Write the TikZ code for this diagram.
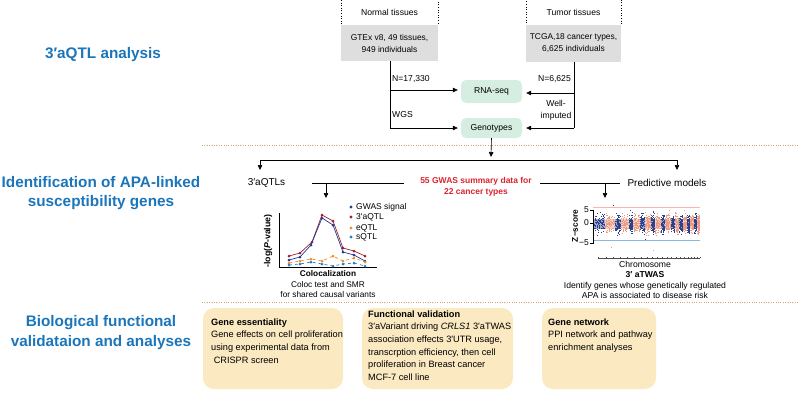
\documentclass[tikz,border=0pt]{standalone}
\usepackage{fontspec}
\setmainfont{Liberation Sans}
\usetikzlibrary{arrows.meta}
\definecolor{tblue}{HTML}{1B75BB}
\definecolor{gwred}{HTML}{D9232E}
\definecolor{boxgray}{HTML}{DEDEDE}
\definecolor{boxgreen}{HTML}{D6EDE1}
\definecolor{boxyellow}{HTML}{FBE9C2}
\definecolor{sepcol}{HTML}{D6A56C}
\definecolor{cblue}{HTML}{1F3D99}
\definecolor{cred}{HTML}{A3202B}
\definecolor{corange}{HTML}{F28E2B}
\definecolor{clblue}{HTML}{2A7FC1}
\definecolor{mblue}{HTML}{2B4190}
\definecolor{msal}{HTML}{EC9A80}
\begin{document}
\begin{tikzpicture}[x=1pt,y=-1pt,
  every node/.style={inner sep=0pt, font=\fontsize{8.6}{10}\selectfont},
  arr/.style={-{Triangle[length=5pt,width=4.5pt]}, line width=0.6pt},
  ln/.style={line width=0.6pt},
  title/.style={text=tblue, font=\fontsize{15.3}{19.8}\selectfont\bfseries, align=center},
  dotbox/.style={draw, dotted, line width=0.6pt},
  graybox/.style={fill=boxgray, align=center, font=\fontsize{8.4}{12}\selectfont},
  greenbox/.style={fill=boxgreen, rounded corners=5pt, minimum width=61pt},
  sep/.style={sepcol, line width=0.8pt, dash pattern=on 0.8pt off 1.6pt},
  ybox/.style={fill=boxyellow, rounded corners=11pt, minimum height=81pt},
  ytext/.style={align=left, anchor=north west, font=\fontsize{9.2}{12.6}\selectfont},
]
\useasboundingbox (0,0) rectangle (800,410);

% section titles
\node[title] (t1) at (103,55) {3′aQTL analysis};
\node[title] (t2) at (101,193) {Identification of APA-linked\\susceptibility genes};
\node[title] (t3) at (101,332.5) {Biological functional\\validataion and analyses};

% separators
\coordinate (s1a) at (202,145); \coordinate (s1b) at (800,145);
\coordinate (s2a) at (202,302); \coordinate (s2b) at (800,302);
\draw[sep] (s1a) -- (s1b);
\draw[sep] (s2a) -- (s2b);

% top boxes
\node[dotbox, minimum width=97pt, minimum height=26pt] (normal) at (389.5,12) {Normal tissues};
\node[graybox, minimum width=97pt, minimum height=36pt] (ngray) at (389.5,43) {GTEx v8, 49 tissues,\\949 individuals};
\node[dotbox, minimum width=95pt, minimum height=26pt] (tumor) at (573.5,12) {Tumor tissues};
\node[graybox, minimum width=95pt, minimum height=37pt] (tgray) at (573.5,43.5) {TCGA,18 cancer types,\\6,625 individuals};

\node[greenbox, minimum height=23pt] (rna) at (491.5,91.5) {RNA-seq};
\node[greenbox, minimum height=20pt] (geno) at (491.5,128) {Genotypes};

% left connectors
\coordinate (nl1) at (390,90);
\coordinate (nl2) at (390,128);
\draw[ln] (390,61) coordinate (ns) -- (nl2);
\draw[arr, shorten >=3pt] (nl1) -- (nl1 -| rna.west);
\draw[arr, shorten >=3pt] (nl2) -- (nl2 -| geno.west);
\node[anchor=west] (n1) at (392,79) {N=17,330};
\node[anchor=west] (n2) at (392,115) {WGS};

% right connectors
\coordinate (tr1) at (574,93);
\coordinate (tr2) at (574,128);
\draw[ln] (574,62) coordinate (ts) -- (tr2);
\draw[arr, shorten >=4pt] (tr1) -- (tr1 -| rna.east);
\draw[arr, shorten >=4pt] (tr2) -- (tr2 -| geno.east);
\node[anchor=east] (n3) at (571,79) {N=6,625};
\node[align=center, font=\fontsize{8.6}{12.5}\selectfont] (n4) at (556,110.5) {Well-\\imputed};

% split to second section
\coordinate (hm) at (491,160);
\coordinate (hl) at (260,160);
\coordinate (hr) at (677,160);
\draw[arr] (geno.south) -- (491,157);
\draw[ln] (hl) -- (hr);
\draw[arr] (hl) -- (260,170);
\draw[arr] (hr) -- (677,170);

\node[font=\fontsize{10}{12}\selectfont] (aqtls) at (266.5,183) {3′aQTLs};
\node[font=\fontsize{10}{12}\selectfont] (pred) at (667,183) {Predictive models};

\node[text=gwred, align=center, font=\fontsize{8.5}{11}\selectfont\bfseries] (gwas) at (476,187) {55 GWAS summary data for\\22 cancer types};
\coordinate (gl) at (312,183);
\coordinate (gr) at (620,183);
\coordinate (gla) at (326,183);
\coordinate (gra) at (605,183);
\draw[ln] (gl) -- (404,183);
\draw[ln] (540,183) -- (gr);
\draw[arr] (gla) -- (326,198);
\draw[arr] (gra) -- (605,198);

% colocalization plot
\draw[line width=0.7pt] (279,213) -- (279,267) -- (377,267);
\node[rotate=90, font=\fontsize{8.8}{10}\selectfont\bfseries] (ylab) at (268,241) {-log(\textit{P}-value)};
\draw[cred, line width=0.7pt] (289,256) -- (300,253) -- (312,242) -- (322,215) -- (333,221) -- (343,248) -- (354,251) -- (365,256);
\foreach \x/\y in {289/256,300/253,312/242,322/215,333/221,343/248,354/251,365/256} \fill[cred] (\x,\y) circle (1.5);
\draw[cblue, line width=0.7pt] (289,260) -- (300,257) -- (311,245) -- (322,218) -- (333,225) -- (343,252) -- (354,255) -- (365,261);
\foreach \x/\y in {289/260,300/257,311/245,322/218,333/225,343/252,354/255,365/261} \fill[cblue] (\x,\y) circle (1.5);
\draw[corange, line width=0.7pt, dashed] (289,263) -- (300,261) -- (311,259) -- (322,261) -- (333,256) -- (343,261) -- (354,258) -- (365,262);
\foreach \x/\y in {289/263,300/261,311/259,322/261,333/256,343/261,354/258,365/262} \fill[corange] (\x,\y) circle (1.5);
\draw[clblue, line width=0.7pt, dashed] (289,265) -- (300,264) -- (311,262) -- (322,264) -- (333,266) -- (343,264) -- (354,263) -- (365,266);
\foreach \x/\y in {289/265,300/264,311/262,322/264,333/266,343/264,354/263,365/266} \fill[clblue] (\x,\y) circle (1.5);
% legend
\fill[cblue] (351,207) circle (1.6);
\fill[cred] (351,217) circle (1.6);
\fill[corange] (351,228) circle (1.6);
\fill[clblue] (351,237) circle (1.6);
\node[anchor=west, font=\fontsize{8.5}{10}\selectfont] (lg1) at (356,207) {GWAS signal};
\node[anchor=west, font=\fontsize{8.5}{10}\selectfont] (lg2) at (356,217) {3′aQTL};
\node[anchor=west, font=\fontsize{8.5}{10}\selectfont] (lg3) at (356,228) {eQTL};
\node[anchor=west, font=\fontsize{8.5}{10}\selectfont] (lg4) at (356,237) {sQTL};
\node[align=center, font=\fontsize{8.3}{10.5}\selectfont] (coloc) at (328,284.5) {\textbf{Colocalization}\\Coloc test and SMR\\for shared causal variants};

% Manhattan plot
\draw[red!30, line width=0.6pt] (593,207) -- (700,207);
\draw[clblue!55, line width=0.6pt] (593,240) -- (700,240);
\pgfmathsetseed{7}
\foreach \a/\b/\c in {594/605/mblue,605/615/msal,615/621/mblue,621/629/msal,629/633/mblue,633/640/msal,640/645/mblue,645/651/msal,651/655/mblue,655/661/msal,661/665/mblue,665/671/msal,671/675/mblue,675/679/msal,679/683/mblue,683/687/msal,687/690/mblue,690/694/msal,694/697/mblue,697/700/msal}{
  \fill[\c, opacity=0.45] (\a,218.5) rectangle (\b,228.5);
  \foreach \k in {1,...,90}{
    \pgfmathsetmacro{\px}{\a+rnd*(\b-\a-0.7)}
    \pgfmathsetmacro{\py}{223.5+(rnd+rnd+rnd+rnd-2)*8}
    \fill[\c] (\px,\py) rectangle ++(0.7,0.7);
  }
}
\fill[msal] (611,247) rectangle ++(0.9,0.9);
\fill[msal] (653,250) rectangle ++(0.9,0.9);
\fill[mblue] (645,239) rectangle ++(0.9,0.9);
\fill[mblue] (613,205) rectangle ++(0.9,0.9);
\draw[line width=0.6pt] (593,210) -- (593,244);
\foreach \y in {210,223,243} \draw[line width=0.6pt] (590,\y) -- (593,\y);
\node[anchor=east, font=\fontsize{8.5}{10}\selectfont] (z5) at (589,210) {5};
\node[anchor=east, font=\fontsize{8.5}{10}\selectfont] (z0) at (589,223) {0};
\node[anchor=east, font=\fontsize{8.5}{10}\selectfont] (zm5) at (589,243) {−5};
\node[rotate=90, font=\fontsize{8.3}{10}\selectfont\bfseries] (zlab) at (575,226) {Z−score};
\draw[line width=0.5pt, black!70] (598,258) -- (700,258);
\foreach \x in {598,606,613,620,627,634,641,647,652,657,662,667,671,676,680,684,688,691,694,697,700} \draw[line width=0.4pt, black!70] (\x,258) -- (\x,256.5);
\node[align=center, font=\fontsize{8.6}{10.3}\selectfont] (twas) at (645,280) {Chromosome\\\textbf{3′ aTWAS}\\Identify genes whose genetically regulated\\APA is associated to disease risk};

% bottom boxes
\node[ybox, minimum width=140pt] (b1) at (273,348.5) {};
\node[ybox, minimum width=151pt] (b2) at (437.5,348.5) {};
\node[ybox, minimum width=114pt] (b3) at (599,348.5) {};
\node[ytext] (b1t) at (211,318.5) {\textbf{Gene essentiality}\\Gene effects on cell proliferation\\using experimental data from\\\ CRISPR screen};
\node[ytext] (b2t) at (368,310.5) {\textbf{Functional validation}\\3′aVariant driving \textit{CRLS1} 3′aTWAS\\association effects 3′UTR usage,\\transcrption efficiency, then cell\\proliferation in Breast cancer\\MCF-7 cell line};
\node[ytext] (b3t) at (548,318.5) {\textbf{Gene network}\\PPI network and pathway\\enrichment analyses};
\end{tikzpicture}
\end{document}
